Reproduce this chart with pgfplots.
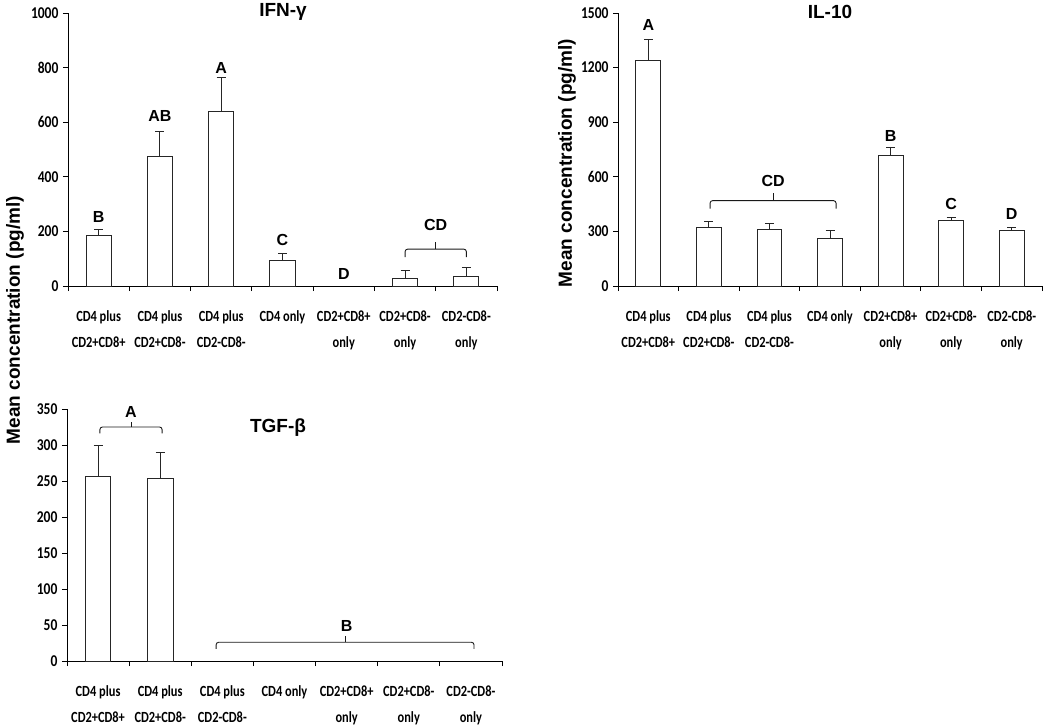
\documentclass[border=0pt]{standalone}
\usepackage{pgfplots}
\pgfplotsset{compat=1.18}
\usepackage{pgfplotstable}
\usepackage{fontspec}
\setmainfont{Liberation Sans}
\newfontfamily\calibri{Carlito}

\pgfplotstableread{
x y e
0.5 185 22
1.5 474 91
2.5 638 126
3.5 93 26
5.5 26 30
6.5 35 32
}\ifn
\pgfplotstableread{
x y e
0.5 1241 116
1.5 319 33
2.5 312 31
3.5 264 43
4.5 716 48
5.5 360 16
6.5 307 14
}\ilten
\pgfplotstableread{
x y e
0.5 257 43
1.5 253 36
}\tgf

\tikzset{
  lett/.style={font=\bfseries\fontsize{16}{16}\selectfont},
  brc/.style={line width=0.9pt, black!90, rounded corners=2.5pt},
}
% bracket: x1 x2 yend yflat ytip
\newcommand{\brk}[5]{%
  \draw[brc] (axis cs:#1,#3) -- (axis cs:#1,#4) -- (axis cs:#2,#4) -- (axis cs:#2,#3);
  \draw[line width=0.9pt, black!90] (axis cs:{(#1+#2)/2},#4) -- (axis cs:{(#1+#2)/2},#5);}

\pgfplotsset{
  panel/.style={
    scale only axis,
    axis lines=left,
    axis line style={-, black, line width=0.9pt},
    xmin=0, xmax=7, ymin=0,
    enlargelimits=false,
    clip=false,
    tick align=outside,
    major tick length=5pt,
    tick style={black, line width=0.9pt},
    xtick={0,1,...,7},
    xticklabels={},
    extra x ticks={0.5,1.5,...,6.5},
    extra x tick labels={{CD4 plus\\CD2+CD8+},{CD4 plus\\CD2+CD8-},{CD4 plus\\CD2-CD8-},{CD4 only},{CD2+CD8+\\only},{CD2+CD8-\\only},{CD2-CD8-\\only}},
    extra x tick style={major tick length=0pt, xticklabel style={anchor=north, yshift=-21pt, align=center, font=\calibri\bfseries\fontsize{15.5}{26}\selectfont, xscale=0.8}},
    yticklabel style={font=\calibri\bfseries\fontsize{16.5}{16.5}\selectfont, xscale=0.82, xshift=-2pt},
    /pgf/number format/assume math mode=true,
    /pgf/number format/1000 sep={},
  },
  mybar/.style={ybar, bar width=0.41, fill=white, draw=black!85, line width=0.9pt,
    error bars/.cd, y dir=plus, y explicit,
    error bar style={line width=0.9pt, black!85},
    error mark options={rotate=90, line width=0.9pt, black!85, mark size=4.5pt}},
}

\begin{document}
\begin{tikzpicture}
\useasboundingbox (0,0) rectangle (1050pt,-726pt);

% IFN-gamma
\begin{axis}[panel, at={(68pt,-286pt)}, anchor=south west, width=429pt, height=273pt,
  ymax=1000, ytick={0,200,...,1000}]
\addplot[mybar] table[x=x,y=y,y error=e] {\ifn};
\node[lett] at (axis cs:0.5,253) {B};
\node[lett] at (axis cs:1.5,624) {AB};
\node[lett] at (axis cs:2.5,800) {A};
\node[lett] at (axis cs:3.5,170) {C};
\node[lett] at (axis cs:4.5,45) {D};
\node[lett] at (axis cs:6,222) {CD};
\brk{5.5}{6.5}{106}{135}{161}
\end{axis}

% IL-10
\begin{axis}[panel, at={(618pt,-286pt)}, anchor=south west, width=424pt, height=273pt,
  ymax=1500, ytick={0,300,...,1500}]
\addplot[mybar] table[x=x,y=y,y error=e] {\ilten};
\node[lett] at (axis cs:0.5,1436) {A};
\node[lett] at (axis cs:2.56,576) {CD};
\node[lett] at (axis cs:4.5,826) {B};
\node[lett] at (axis cs:5.5,448) {C};
\node[lett] at (axis cs:6.5,398) {D};
\brk{1.52}{3.6}{425}{469}{510}
\end{axis}

% TGF-beta
\begin{axis}[panel, at={(67pt,-661pt)}, anchor=south west, width=435pt, height=252pt,
  ymax=350, ytick={0,50,...,350}]
\addplot[mybar] table[x=x,y=y,y error=e] {\tgf};
\node[lett] at (axis cs:1.03,346) {A};
\node[lett] at (axis cs:4.5,49) {B};
\brk{0.53}{1.53}{316}{325}{332}
\brk{2.4}{6.55}{17}{26}{35}
\end{axis}

\node[font=\bfseries\fontsize{19}{19}\selectfont] at (283pt,-12pt) {IFN-γ};
\node[font=\bfseries\fontsize{19}{19}\selectfont] at (830pt,-12pt) {IL-10};
\node[font=\bfseries\fontsize{19}{19}\selectfont] at (278pt,-428pt) {TGF-β};
\node[rotate=90, font=\bfseries\fontsize{19}{19}\selectfont] at (15pt,-320pt) {Mean concentration (pg/ml)};
\node[rotate=90, font=\bfseries\fontsize{19}{19}\selectfont] at (567pt,-163pt) {Mean concentration (pg/ml)};
\end{tikzpicture}
\end{document}
